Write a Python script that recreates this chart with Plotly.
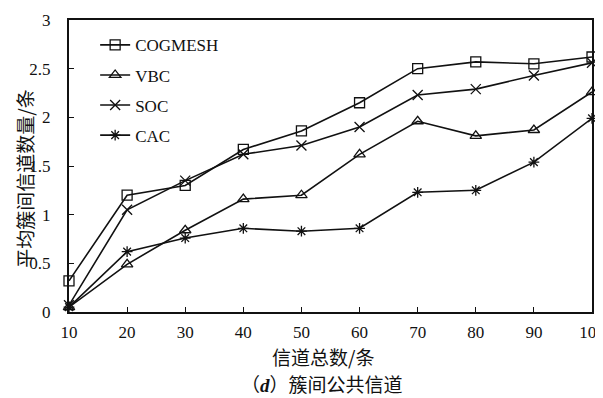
import plotly.graph_objects as go

channels = [10, 20, 30, 40, 50, 60, 70, 80, 90, 100]
cogmesh = [0.32, 1.20, 1.30, 1.67, 1.86, 2.15, 2.50, 2.57, 2.55, 2.62]
vbc = [0.05, 0.49, 0.84, 1.16, 1.20, 1.62, 1.96, 1.81, 1.87, 2.26]
soc = [0.07, 1.05, 1.35, 1.62, 1.71, 1.90, 2.23, 2.29, 2.43, 2.56]
cac = [0.05, 0.62, 0.76, 0.86, 0.83, 0.86, 1.23, 1.25, 1.54, 1.99]
y_ticks = [0, 0.5, 1, 1.5, 2, 2.5, 3]
y_tick_labels = ["0", "0.5", "1", "1.5", "2", "2.5", "3"]

series = [
    ("COGMESH", cogmesh, "square-open", 10),
    ("VBC", vbc, "triangle-up-open", 10),
    ("SOC", soc, "x-thin-open", 10),
    ("CAC", cac, "asterisk-open", 9),
]

fig = go.Figure()
for name, vals, sym, size in series:
    fig.add_trace(go.Scatter(
        x=channels, y=vals, name=name, mode="lines+markers", legendgroup=name,
        line=dict(color="#111", width=1.6),
        marker=dict(symbol=sym, size=size, color="#111",
                    line=dict(color="#111", width=1.3)),
        cliponaxis=False,
    ))

serif = "Liberation Serif, Times New Roman, serif"
cjk = "Noto Sans CJK SC"

# page body has an 8px margin: figure sized/margined to compensate
fig.update_layout(
    width=595, height=390,
    margin=dict(l=61, r=11, t=12, b=86, autoexpand=False),
    paper_bgcolor="white", plot_bgcolor="white",
    showlegend=True,
    legend=dict(x=0.05, y=0.975, xanchor="left", yanchor="top",
                bgcolor="rgba(0,0,0,0)", font=dict(family=serif, size=17, color="#111"),
                tracegroupgap=5),
    font=dict(family=serif, size=17, color="#111"),
)
fig.update_xaxes(
    range=[10, 100], tickvals=channels, ticks="inside", ticklen=5,
    tickcolor="#111", showline=True, linecolor="#111", linewidth=2,
    mirror=True, showgrid=False, zeroline=False, automargin=False,
    ticklabeloverflow="allow", ticklabelstandoff=4,
    tickfont=dict(family=serif, size=17, color="#111"),
)
fig.update_yaxes(
    range=[0, 3], tickvals=y_ticks, ticktext=y_tick_labels, ticks="inside", ticklen=5,
    tickcolor="#111", showline=True, linecolor="#111", linewidth=2,
    mirror=True, showgrid=False, zeroline=False, automargin=False,
    ticklabeloverflow="allow", ticklabelstandoff=13,
    tickfont=dict(family=serif, size=17, color="#111"),
)
fig.add_annotation(
    x=-0.085, y=0.455, xref="paper", yref="paper", xanchor="center", yanchor="middle",
    text="平均簇间信道数量/条", textangle=-90, showarrow=False,
    font=dict(family=cjk, size=19, color="#111"),
)
fig.add_annotation(
    x=0.486, y=-0.152, xref="paper", yref="paper", xanchor="center", yanchor="middle",
    text="信道总数/条", showarrow=False,
    font=dict(family=cjk, size=19, color="#111"),
)
fig.add_annotation(
    x=0.484, y=-0.245, xref="paper", yref="paper", xanchor="center", yanchor="middle",
    text="（<span style='font-family:Liberation Serif'><b><i>d</i></b></span>）簇间公共信道",
    showarrow=False,
    font=dict(family=cjk, size=19, color="#111"),
)
fig.write_html("out.html")
